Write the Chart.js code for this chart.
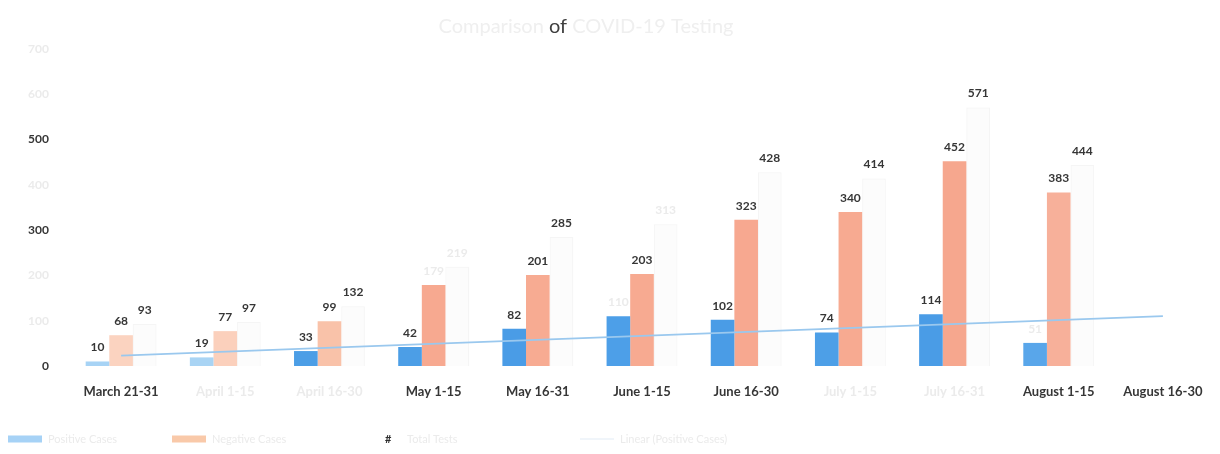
<!DOCTYPE html>
<html>
<head>
<meta charset="utf-8">
<script src="https://cdn.jsdelivr.net/npm/chart.js@4.4.1/dist/chart.umd.min.js"></script>
<style>
  html, body { margin: 0; padding: 0; background: #ffffff; }
  #wrap { width: 1220px; height: 454px; }
</style>
</head>
<body>
<div id="wrap"><canvas id="chart" width="1220" height="454"></canvas></div>
<script>
// Reporting periods (the last one has no results yet)
const categories = [
  'March 21-31', 'April 1-15', 'April 16-30', 'May 1-15', 'May 16-31',
  'June 1-15', 'June 16-30', 'July 1-15', 'July 16-31', 'August 1-15', 'August 16-30'
];

// Test results per period
const positiveCases = [10, 19, 33, 42, 82, 110, 102, 74, 114, 51, null];
const negativeCases = [68, 77, 99, 179, 201, 203, 323, 340, 452, 383, null];
const totalTests    = [93, 97, 132, 219, 285, 313, 428, 414, 571, 444, null];

// Linear trend of positive cases: start and end of the fitted line
const positiveTrend = [23, null, null, null, null, null, null, null, null, null, 110];

// Value axis
const yTickValues = [0, 100, 200, 300, 400, 500, 600, 700];

// Washed-out print: which texts came out pale
const paleTicks = [100, 200, 400, 600, 700];
const paleCategories = ['April 1-15', 'April 16-30', 'July 1-15', 'July 16-31'];
const paleValueLabels = [[5, 9], [3], [3, 5]];   // per bar series, by period index

const DARK = '#363636';
const PALE = '#ebebeb';

const positiveColors = ['#a7d3f5', '#a9d4f4', '#4c9ee6', '#4c9ee6', '#4a9ce6', '#4d9fe8',
                        '#4a9ce6', '#4d9fe7', '#4a9ce6', '#59a6ea', '#4a9ce6'];
const negativeColors = ['#fbd3c0', '#fbd0bc', '#f9c2a9', '#f7a990', '#f7ab92', '#f7aa91',
                        '#f7a890', '#f7aa91', '#f6a78e', '#f7b09a', '#f6a78e'];

// Value labels above each bar
const barValueLabels = {
  id: 'barValueLabels',
  afterDatasetsDraw(chart) {
    const ctx = chart.ctx;
    ctx.save();
    ctx.font = 'bold 12px Lato, "Open Sans", sans-serif';
    ctx.textAlign = 'center';
    ctx.textBaseline = 'bottom';
    [0, 1, 2].forEach(di => {
      const meta = chart.getDatasetMeta(di);
      const values = chart.data.datasets[di].data;
      meta.data.forEach((bar, i) => {
        const v = values[i];
        if (v === null || v === undefined) return;
        ctx.fillStyle = paleValueLabels[di].includes(i) ? PALE : DARK;
        ctx.fillText(String(v), bar.x, bar.y - 8);
      });
    });
    ctx.restore();
  }
};

// Title with a partly faded print
const fadedTitle = {
  id: 'fadedTitle',
  afterDraw(chart) {
    const ctx = chart.ctx;
    const parts = [['Comparison ', '#efefef'], ['of', '#404040'], [' COVID-19 Testing', '#efefef']];
    ctx.save();
    ctx.font = '20px Lato, "Open Sans", sans-serif';
    ctx.textBaseline = 'middle';
    ctx.textAlign = 'left';
    const full = parts.map(p => p[0]).join('');
    let x = 586 - ctx.measureText(full).width / 2;
    parts.forEach(([txt, col]) => {
      ctx.fillStyle = col;
      ctx.fillText(txt, x, 27);
      x += ctx.measureText(txt).width;
    });
    ctx.restore();
  }
};

// Legend row spread along the bottom edge
const legendRow = {
  id: 'legendRow',
  afterDraw(chart) {
    const ctx = chart.ctx;
    const slots = [8, 172, 385, 580];
    ctx.save();
    ctx.font = '11px Lato, "Open Sans", sans-serif';
    ctx.textBaseline = 'middle';
    chart.data.datasets.forEach((ds, i) => {
      const x = slots[i];
      const y = 439;
      if (ds.type === 'line') {
        ctx.strokeStyle = '#f0f5fa';
        ctx.lineWidth = 2;
        ctx.beginPath();
        ctx.moveTo(x, y);
        ctx.lineTo(x + 34, y);
        ctx.stroke();
      } else {
        ctx.fillStyle = ds.legendColor;
        ctx.fillRect(x, y - 3.5, 34, 7);
      }
      ctx.fillStyle = PALE;
      if (i === 2) {
        ctx.font = 'bold 11px Lato, "Open Sans", sans-serif';
        ctx.fillStyle = '#2e2e2e';
        ctx.fillText('#', x, y);
        ctx.font = '11px Lato, "Open Sans", sans-serif';
        ctx.fillStyle = PALE;
        ctx.fillText(ds.label, x + 22, y);
      } else {
        ctx.fillText(ds.label, x + 40, y);
      }
    });
    ctx.restore();
  }
};

new Chart(document.getElementById('chart'), {
  type: 'bar',
  data: {
    labels: categories,
    datasets: [
      {
        label: 'Positive Cases',
        data: positiveCases,
        backgroundColor: positiveColors,
        legendColor: '#a6d2f6',
        categoryPercentage: 0.68,
        barPercentage: 1.0,
        order: 1
      },
      {
        label: 'Negative Cases',
        data: negativeCases,
        backgroundColor: negativeColors,
        legendColor: '#f9c9a9',
        categoryPercentage: 0.68,
        barPercentage: 1.0,
        order: 1
      },
      {
        label: 'Total Tests',
        data: totalTests,
        backgroundColor: 'rgba(246,246,246,0.35)',
        borderColor: 'rgba(236,236,236,0.5)',
        borderWidth: 1,
        legendColor: 'rgba(255,255,255,0)',
        categoryPercentage: 0.68,
        barPercentage: 1.0,
        order: 1
      },
      {
        type: 'line',
        label: 'Linear (Positive Cases)',
        data: positiveTrend,
        spanGaps: true,
        borderColor: '#9ac8ee',
        borderWidth: 1.75,
        pointRadius: 0,
        fill: false,
        order: 0
      }
    ]
  },
  options: {
    responsive: false,
    animation: false,
    layout: { padding: { top: 49, right: 5, bottom: 0, left: 0 } },
    plugins: {
      legend: { display: false },
      title: { display: false },
      tooltip: { enabled: false }
    },
    scales: {
      x: {
        grid: { display: false },
        border: { display: false },
        ticks: {
          padding: 10,
          maxRotation: 0,
          autoSkip: false,
          font: { family: 'Lato, "Open Sans", sans-serif', size: 13, weight: 'bold' },
          color: ctx => paleCategories.includes(categories[ctx.index]) ? PALE : DARK
        },
        afterFit: scale => { scale.height = 88; }
      },
      y: {
        min: 0,
        max: 700,
        grid: { display: false },
        border: { display: false },
        afterBuildTicks: scale => { scale.ticks = yTickValues.map(v => ({ value: v })); },
        ticks: {
          padding: 12,
          font: { family: 'Lato, "Open Sans", sans-serif', size: 12, weight: 'bold' },
          color: ctx => paleTicks.includes(ctx.tick.value) ? PALE : DARK
        },
        afterFit: scale => { scale.width = 69; }
      }
    }
  },
  plugins: [barValueLabels, fadedTitle, legendRow]
});
</script>
</body>
</html>
